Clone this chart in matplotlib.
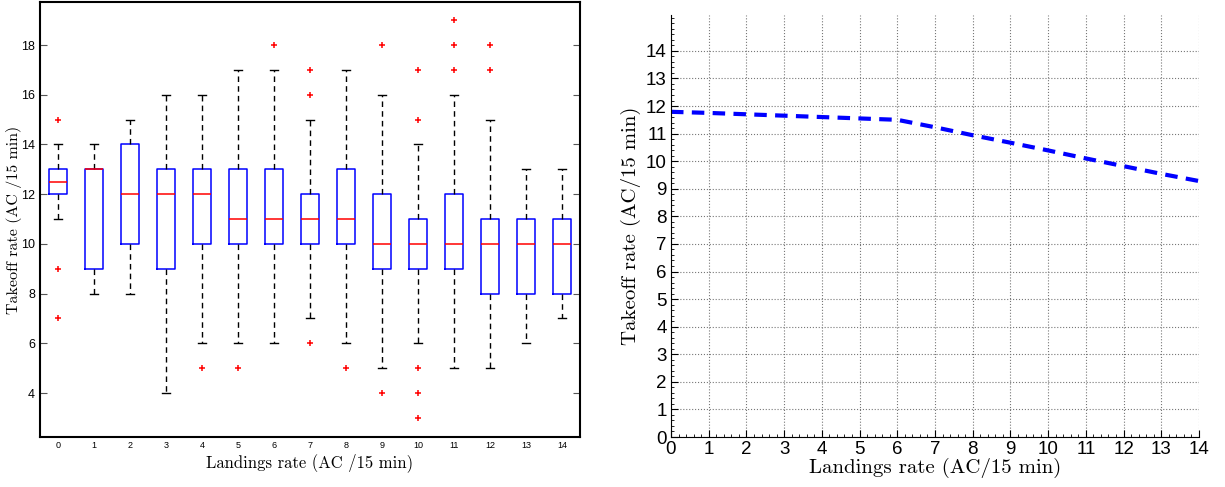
import numpy as np
import matplotlib.pyplot as plt
from matplotlib.ticker import MultipleLocator

# Boxplot data (landings rate 0..14)
landings = list(range(15))
q1 = [12, 9, 10, 9, 10, 10, 10, 10, 10, 9, 9, 9, 8, 8, 8]
med = [12.5, 13, 12, 12, 12, 11, 11, 11, 11, 10, 10, 10, 10, 10, 10]
q3 = [13, 13, 14, 13, 13, 13, 13, 12, 13, 12, 11, 12, 11, 11, 11]
wlo = [11, 8, 8, 4, 6, 6, 6, 7, 6, 5, 6, 5, 5, 6, 7]
whi = [14, 14, 15, 16, 16, 17, 17, 15, 17, 16, 14, 16, 15, 13, 13]
outliers = [[15, 9, 7], [], [], [], [5], [5], [18], [17, 16, 6], [5],
            [18, 4], [17, 15, 5, 4, 3], [19, 18, 17], [18, 17], [], []]

# Fitted capacity curve
curve_x = list(range(15))
curve_y = [11.79, 11.75, 11.7, 11.65, 11.6, 11.55, 11.5, 11.23, 10.94,
           10.67, 10.39, 10.1, 9.82, 9.54, 9.28]

serif = 'cmr10'
sans = 'Liberation Sans'

fig = plt.figure(figsize=(12.25, 4.87), dpi=100)

# left: boxplot
ax1 = fig.add_axes([40/1225, 50/487, 540/1225, 435/487])
stats = []
for i in range(len(landings)):
    stats.append({'med': med[i], 'q1': q1[i], 'q3': q3[i],
                  'whislo': wlo[i], 'whishi': whi[i], 'fliers': outliers[i]})
ax1.bxp(stats, positions=landings, widths=0.5, capwidths=0.22,
        boxprops=dict(color='blue', linewidth=1.1),
        medianprops=dict(color='red', linewidth=1.1),
        whiskerprops=dict(color='black', linestyle=(0, (4, 3)), linewidth=1.0),
        capprops=dict(color='black', linewidth=1.0),
        flierprops=dict(marker='+', markeredgecolor='red', markersize=5,
                        markeredgewidth=1.1, linestyle='none'))
ax1.set_xlim(-0.5, 14.5)
ax1.set_ylim(2.23, 19.73)
ax1.set_xticks(landings)
ax1.set_xticklabels([str(v) for v in landings], fontsize=6.5, family=sans)
ax1.set_yticks([4, 6, 8, 10, 12, 14, 16, 18])
ax1.set_yticklabels(['4', '6', '8', '10', '12', '14', '16', '18'], fontsize=9, family=sans)
ax1.tick_params(axis='x', length=0, pad=3)
ax1.tick_params(axis='y', direction='in', left=True, right=True, length=5, color='#555555')
for s in ax1.spines.values():
    s.set_linewidth(1.5)
ax1.set_xlabel('Landings rate (AC /15 min)', fontsize=12, family=serif)
ax1.set_ylabel('Takeoff rate (AC /15 min)', fontsize=11.5, family=serif)
ax1.xaxis.set_label_coords(0.5, -0.036)
ax1.yaxis.set_label_coords(-0.033, 0.5)

# right: line chart
ax2 = fig.add_axes([671/1225, 50/487, 528/1225, 422/487])
ax2.plot(curve_x, curve_y, color='blue', linestyle=(0, (3, 2)), linewidth=3)
ax2.set_xlim(0, 14)
ax2.set_ylim(0, 15.3)
ax2.xaxis.set_major_locator(MultipleLocator(1))
ax2.yaxis.set_major_locator(MultipleLocator(1))
ax2.xaxis.set_minor_locator(MultipleLocator(0.2))
ax2.yaxis.set_minor_locator(MultipleLocator(0.2))
ax2.set_yticks(range(15))
ax2.grid(True, which='major', linestyle=':', color='#777777', linewidth=0.8)
ax2.spines['top'].set_visible(False)
ax2.spines['right'].set_visible(False)
ax2.tick_params(which='major', direction='in', length=5, labelsize=13.5, pad=3)
ax2.tick_params(which='minor', direction='in', length=2.5)
for lab in ax2.get_xticklabels() + ax2.get_yticklabels():
    lab.set_family(sans)
ax2.set_xlabel('Landings rate (AC/15 min)', fontsize=15, family=serif)
ax2.set_ylabel('Takeoff rate (AC/15 min)', fontsize=15, family=serif)
ax2.xaxis.set_label_coords(0.5, -0.05)
ax2.yaxis.set_label_coords(-0.057, 0.5)

plt.savefig('out.png', dpi=100)
